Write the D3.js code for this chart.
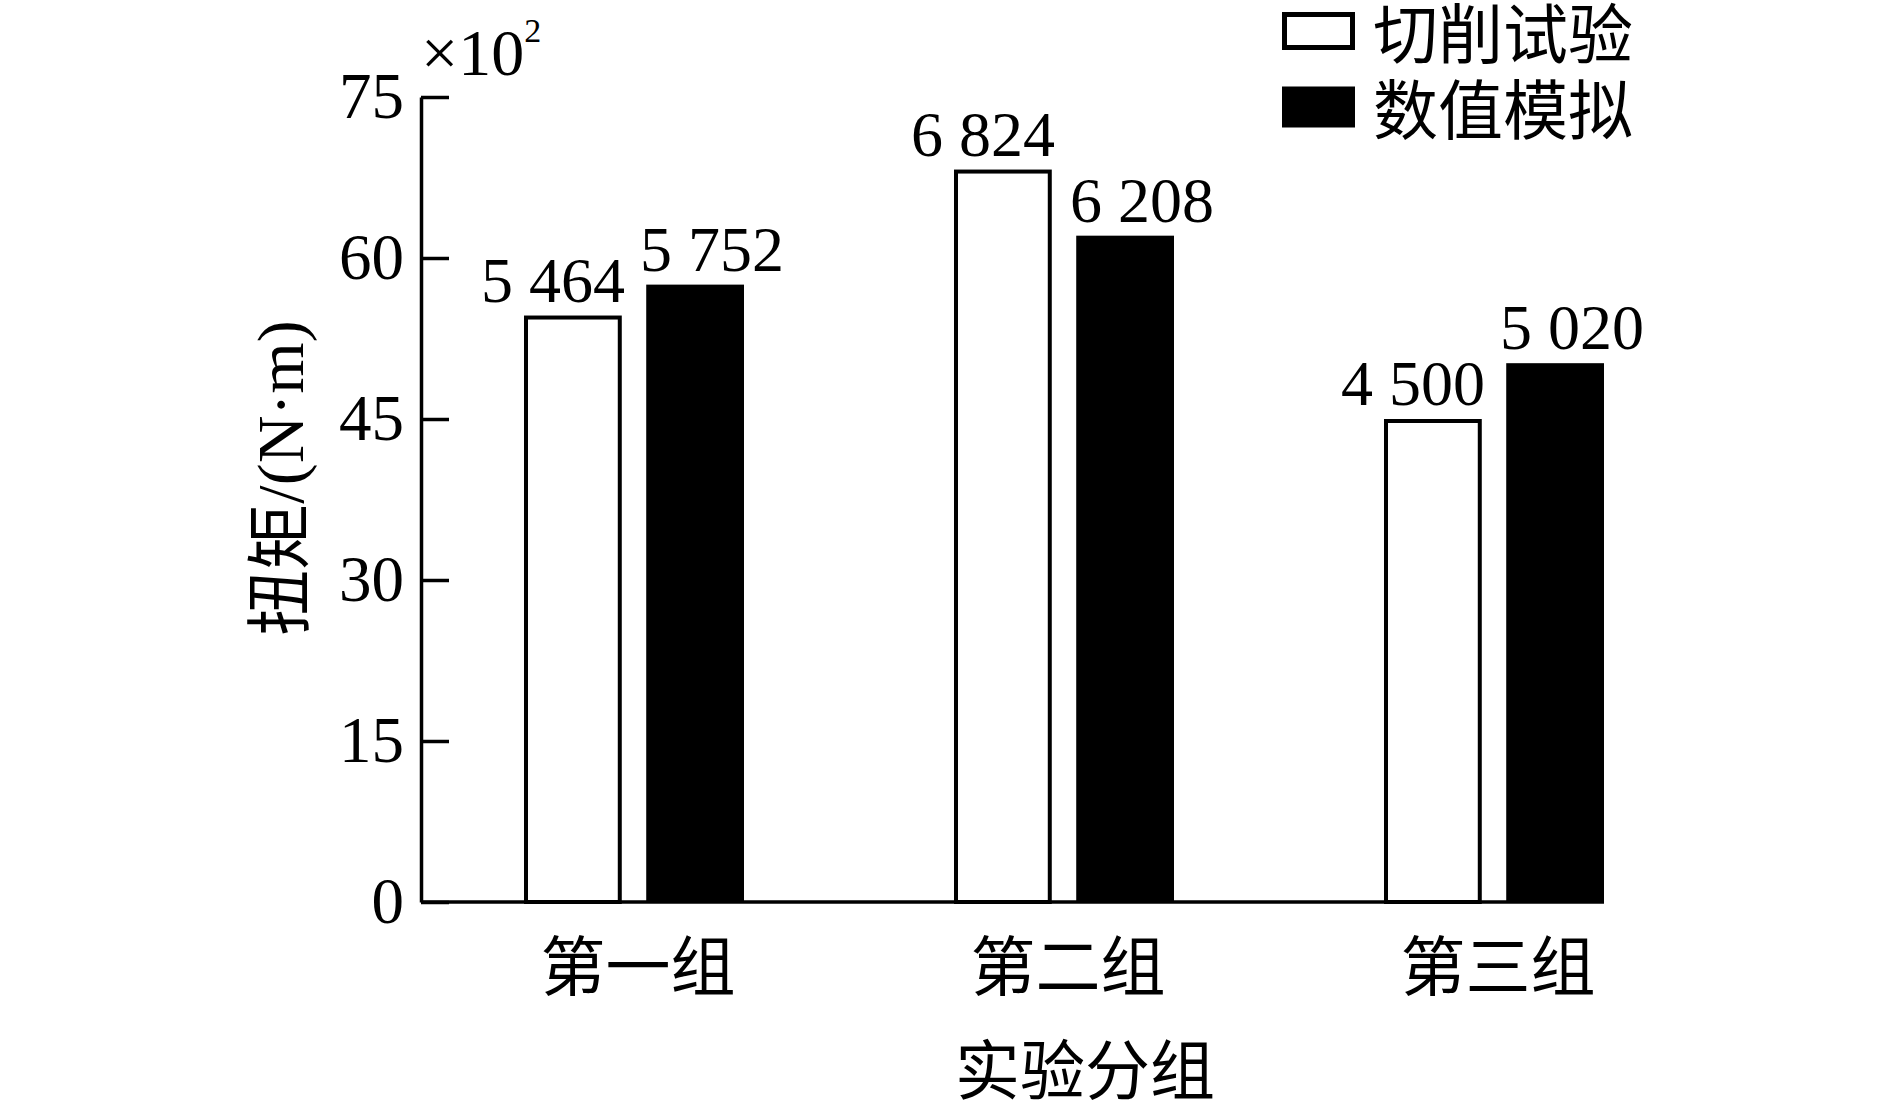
<!DOCTYPE html>
<html><head><meta charset="utf-8">
<script src="https://cdn.jsdelivr.net/npm/d3@7"></script>
<style>
html,body{margin:0;padding:0;background:#fff;}
svg{display:block;}
text{font-family:"Liberation Serif","Times New Roman","Noto Sans CJK SC",serif;fill:#000;}
</style></head>
<body>
<svg id="chart" width="1889" height="1109"></svg>
<script>
const categories = ["第一组", "第二组", "第三组"];
const seriesNames = ["切削试验", "数值模拟"];
const experimentValues = [5464, 6824, 4500];
const simulationValues = [5752, 6208, 5020];
const yTicks = [0, 15, 30, 45, 60, 75];
const yLabel = "扭矩/(N·m)";
const xLabel = "实验分组";

const fmt = v => { const s = String(v); return s.slice(0, s.length - 3) + " " + s.slice(-3); };

const svg = d3.select("#chart");
const axisX = 421, y0 = 902, yTop = 97;
const cjkFont = '"Liberation Serif", "Noto Sans CJK SC", sans-serif';

const y = d3.scaleLinear().domain([0, 75]).range([y0, yTop]);
const x = d3.scaleBand().domain(categories).range([419, 1709]).paddingInner(0).paddingOuter(0);
const xInner = d3.scaleBand().domain(seriesNames).range([-110, 110]).paddingInner(0.2);

const data = categories.map((c, i) => ({
  cat: c,
  vals: [
    { s: seriesNames[0], v: experimentValues[i] },
    { s: seriesNames[1], v: simulationValues[i] }
  ]
}));

// bars
const g = svg.append("g");
const groups = g.selectAll("g.grp").data(data).enter().append("g")
  .attr("transform", d => `translate(${x(d.cat) + x.bandwidth() / 2},0)`);

const sw = 4;
groups.selectAll("rect").data(d => d.vals).enter().append("rect")
  .attr("x", d => xInner(d.s) + (d.s === seriesNames[0] ? sw / 2 : 0))
  .attr("width", d => xInner.bandwidth() - (d.s === seriesNames[0] ? sw : 0))
  .attr("y", d => y(d.v / 100) + (d.s === seriesNames[0] ? sw / 2 : 0))
  .attr("height", d => y0 - y(d.v / 100) - (d.s === seriesNames[0] ? sw / 2 : 0))
  .attr("fill", d => d.s === seriesNames[0] ? "#fff" : "#000")
  .attr("stroke", d => d.s === seriesNames[0] ? "#000" : "none")
  .attr("stroke-width", sw);

groups.selectAll("text.val").data(d => d.vals).enter().append("text")
  .attr("class", "val")
  .attr("x", d => xInner(d.s) + xInner.bandwidth() / 2 + (d.s === seriesNames[0] ? -20 : 17))
  .attr("y", d => y(d.v / 100) - 14)
  .attr("text-anchor", "middle")
  .attr("font-size", 64)
  .text(d => fmt(d.v));

// x axis baseline
const lastRight = x(categories[categories.length - 1]) + x.bandwidth() / 2 + xInner(seriesNames[1]) + xInner.bandwidth();
svg.append("line").attr("x1", axisX).attr("x2", lastRight)
  .attr("y1", y0).attr("y2", y0).attr("stroke", "#000").attr("stroke-width", 3.5);

// category labels
svg.selectAll("text.cat").data(categories).enter().append("text")
  .attr("class", "cat")
  .attr("x", d => x(d) + x.bandwidth() / 2 + 4)
  .attr("y", 990)
  .attr("text-anchor", "middle")
  .attr("font-size", 65)
  .style("font-family", cjkFont)
  .text(d => d);

// y axis
const yAxis = d3.axisLeft(y).tickValues(yTicks).tickSizeInner(-28).tickSizeOuter(0).tickPadding(17);
const ya = svg.append("g").attr("transform", `translate(${axisX},0)`).call(yAxis);
ya.select(".domain").attr("stroke", "#000").attr("stroke-width", 3.5);
ya.selectAll(".tick line").attr("stroke", "#000").attr("stroke-width", 3.5);
ya.selectAll(".tick text").attr("font-size", 65).attr("fill", "#000")
  .style("font-family", '"Liberation Serif", serif');

// multiplier label
const mult = svg.append("text").attr("x", 421).attr("y", 75).attr("font-size", 66);
mult.append("tspan").text("×10");
mult.append("tspan").attr("font-size", 34).attr("dy", -33).text("2");

// y label
svg.append("text")
  .attr("transform", "translate(303,478) rotate(-90)")
  .attr("text-anchor", "middle")
  .attr("font-size", 66)
  .text(yLabel);

// x label
svg.append("text")
  .attr("x", 1085).attr("y", 1094)
  .attr("text-anchor", "middle")
  .attr("font-size", 65)
  .style("font-family", cjkFont)
  .text(xLabel);

// legend
const legend = svg.append("g");
const legY = [31, 107];
seriesNames.forEach((s, i) => {
  const isExp = i === 0;
  legend.append("rect")
    .attr("x", isExp ? 1284.5 : 1282)
    .attr("y", legY[i] - (isExp ? 16.5 : 20.5))
    .attr("width", isExp ? 68 : 73)
    .attr("height", isExp ? 33 : 41)
    .attr("fill", isExp ? "#fff" : "#000")
    .attr("stroke", isExp ? "#000" : "none")
    .attr("stroke-width", 5);
  legend.append("text")
    .attr("x", 1373).attr("y", legY[i] + 27)
    .attr("font-size", 65)
    .style("font-family", cjkFont)
    .text(s);
});
</script>
</body></html>
